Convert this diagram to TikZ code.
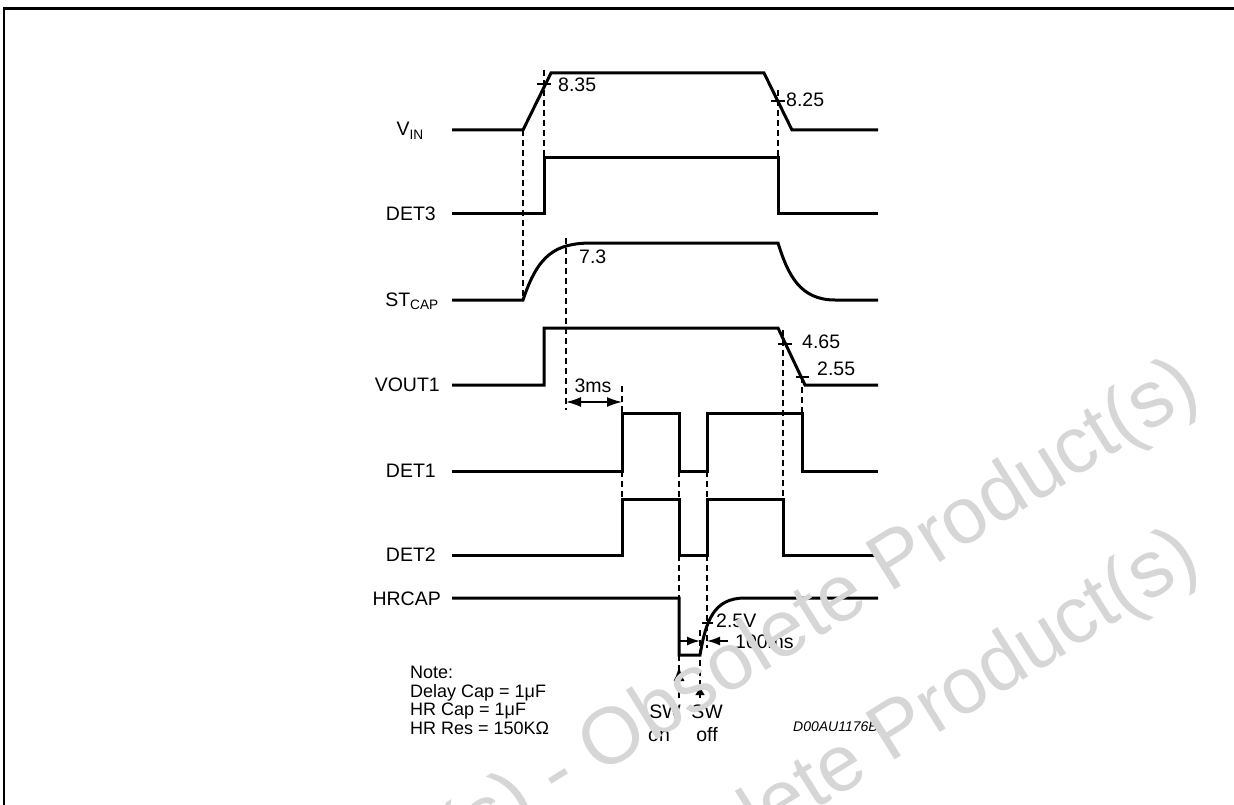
\documentclass[tikz,border=0pt]{standalone}
\usepackage{fontspec}
\setmainfont{Liberation Sans}
\usetikzlibrary{arrows.meta}
\definecolor{wm}{RGB}{214,214,214}
\begin{document}
\begin{tikzpicture}[x=1pt,y=-1pt,
  sig/.style={line width=3pt, line join=miter, line cap=butt},
  dsh/.style={line width=1.1pt, dash pattern=on 6pt off 4pt},
  tck/.style={line width=1.1pt},
  lbl/.style={font=\fontsize{19.5}{23}\selectfont, inner sep=0pt},
  nte/.style={font=\fontsize{18}{21}\selectfont, inner sep=0pt, anchor=base west},
  val/.style={font=\fontsize{19.5}{23}\selectfont, inner sep=0pt, anchor=west},
  dimarr/.style={line width=1.6pt, -{Latex[length=13pt,width=9pt]}},
  wmark/.style={font=\fontsize{80}{92}\selectfont, text=wm, inner sep=0pt, rotate=32, anchor=base east}]
\useasboundingbox (0,0) rectangle (1234,805);
% frame
\draw[line width=3pt] (3,9) -- (1234,9);
\draw[line width=1.3pt] (4,9) -- (4,805);

% signal labels
\node[lbl, anchor=base east] (lvin) at (424,136) {V\textsubscript{IN}};
\node[lbl, anchor=base east] (ldet3) at (436,221) {DET3};
\node[lbl, anchor=base east] (lst) at (439,306) {ST\textsubscript{CAP}};
\node[lbl, anchor=base east] (lvout) at (440,391) {VOUT1};
\node[lbl, anchor=base east] (ldet1) at (436,477) {DET1};
\node[lbl, anchor=base east] (ldet2) at (436,561) {DET2};
\node[lbl, anchor=base east] (lhr) at (441,605) {HRCAP};

% dashed guides
\draw[dsh] (523,130) -- (523,300);
\draw[dsh] (544,70) -- (544,158);
\draw[dsh] (778,90) -- (778,158);
\draw[dsh] (566,238) -- (566,410);
\draw[dsh] (622,386) -- (622,413);
\draw[dsh] (622,471) -- (622,499);
\draw[dsh] (679,471) -- (679,499);
\draw[dsh] (707,471) -- (707,499);
\draw[dsh] (679,555) -- (679,598);
\draw[dsh] (707,555) -- (707,648);
\draw[dsh] (783,330) -- (783,499);
\draw[dsh] (802,377) -- (802,413);
\draw[dsh] (700,630) -- (700,690);
\draw[dsh] (679,655) -- (679,672);

% waveforms
\draw[sig] (452,130) -- (523,130) -- (551,73) -- (764,73) -- (792,130) -- (878,130);
\draw[sig] (452,214) -- (544,214) -- (544,158) -- (778,158) -- (778,214) -- (878,214);
\draw[sig] (452,300) -- (523,300) .. controls (538,255) and (555,243) .. (592,243) -- (778,243) .. controls (788,275) and (800,300) .. (835,300) -- (878,300);
\draw[sig] (452,385) -- (544,385) -- (544,328) -- (778,328) -- (805,385) -- (878,385);
\draw[sig] (452,471) -- (622,471) -- (622,413) -- (679,413) -- (679,471) -- (707,471) -- (707,413) -- (802,413) -- (802,471) -- (878,471);
\draw[sig] (452,555) -- (622,555) -- (622,499) -- (679,499) -- (679,555) -- (707,555) -- (707,499) -- (783,499) -- (783,555) -- (878,555);
\draw[sig] (452,598) -- (679,598) -- (679,655) -- (700,655) .. controls (706,620) and (714,598) .. (745,598) -- (878,598);

% ticks
\draw[tck] (537,84) -- (551,84);
\draw[tck] (771,101) -- (785,101);
\draw[tck] (778,344) -- (792,344);
\draw[tck] (796,377) -- (809,377);
\draw[tck] (702,623) -- (713,623);

% values
\node[val] (v835) at (558,85) {8.35};
\node[val] (v825) at (786,100) {8.25};
\node[val] (v73) at (579,257) {7.3};
\node[val] (v465) at (802,342) {4.65};
\node[val] (v255) at (817,369) {2.55};
\node[val] (v25) at (716,621) {2.5V};
\node[val] (v100) at (735,642) {100ms};
\node[lbl] (v3ms) at (593,386) {3ms};

% dimension arrows
\draw[line width=1.6pt, {Latex[length=15pt,width=10pt]}-{Latex[length=15pt,width=10pt]}] (566,402) -- (622,402);
\draw[dimarr] (679,641) -- (700,641);
\draw[dimarr] (728,641) -- (707,641);

% switch arrows
\draw[line width=2pt, -{Latex[length=15pt,width=11pt]}] (679,698) -- (679,666);
\draw[line width=2pt, -{Latex[length=9pt,width=10pt]}] (700,698) -- (700,686);
\node[lbl, anchor=base] (swon) at (665,718) {SW};
\node[lbl, anchor=base] (swon2) at (659,741) {on};
\node[lbl, anchor=base] (swoff) at (707,718) {SW};
\node[lbl, anchor=base] (swoff2) at (707,741) {off};

% notes
\node[nte] (n1) at (410,678) {Note:};
\node[nte] (n2) at (410,697) {Delay Cap = 1μF};
\node[nte] (n3) at (410,715) {HR Cap = 1μF};
\node[nte] (n4) at (410,734) {HR Res = 150KΩ};
\node[font=\itshape\fontsize{14}{16}\selectfont, inner sep=0pt, anchor=base east] (code) at (878,731) {D00AU1176B};

% watermark
\node[wmark] (wm1) at (1203,398) {Product(s) - Obsolete Product(s)};
\node[wmark] (wm2) at (1203,568) {Product(s) - Obsolete Product(s)};
\end{tikzpicture}
\end{document}
